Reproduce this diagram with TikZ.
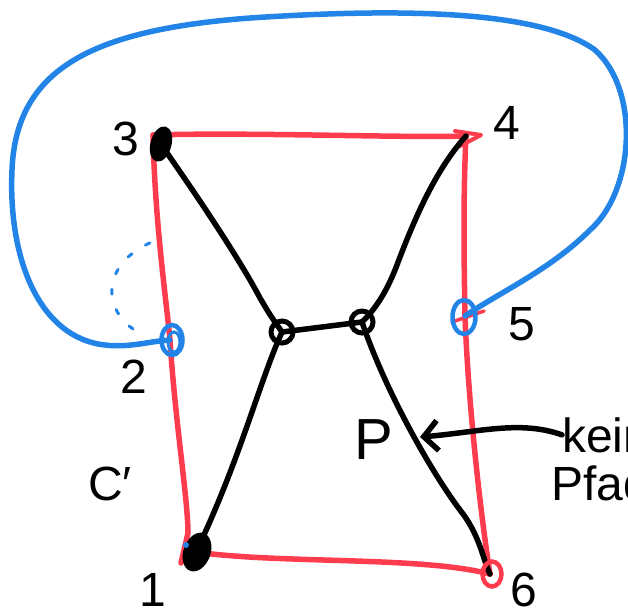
\documentclass[tikz,border=0pt]{standalone}
\usepackage{fontspec}
\setmainfont{Liberation Sans}
\usetikzlibrary{arrows.meta,shapes.geometric}
\definecolor{pred}{HTML}{FF3B4E}
\definecolor{pblue}{HTML}{2384E8}
\begin{document}
\begin{tikzpicture}[x=1pt,y=-1pt,
  redl/.style={pred,line width=5.5pt,line cap=round,line join=round},
  blk/.style={black,line width=5.5pt,line cap=round,line join=round},
  bluel/.style={pblue,line width=5.5pt,line cap=round,line join=round},
  lab/.style={font=\fontsize{48}{52}\selectfont,inner sep=0pt},
  blob/.style={ellipse,fill=black,draw=black,line width=2pt,inner sep=0pt},
  ring/.style={circle,draw=black,line width=5pt,inner sep=0pt,minimum size=22pt}]
\useasboundingbox (0,0) rectangle (628,614);
% vertex positions
\coordinate (v3) at (158,140);
\coordinate (v4) at (466,136);
\coordinate (v2) at (170,340);
\coordinate (v5) at (465,316);
\coordinate (v1) at (196,552);
\coordinate (v6) at (490,574);
% red cycle C'
\draw[redl] (153,135) .. controls (250,132) and (400,138) .. (v4);
\draw[redl] (153,135) .. controls (155,220) and (165,290) .. (v2);
\draw[redl] (v2) .. controls (175,420) and (188,500) .. (188,533) -- (181,563);
\draw[redl] (v1) .. controls (280,564) and (420,556) .. (v6);
\draw[redl] (v4) .. controls (463,200) and (464,260) .. (v5);
\draw[redl] (v5) .. controls (468,400) and (480,510) .. (v6);
\draw[redl,line width=4pt] (455,131) -- (481,135) -- (460,146);
\draw[redl,line width=3.5pt] (452,322) -- (484,311);
% blue path
\draw[bluel] (v2) .. controls (150,341) and (130,348) .. (105,345)
  .. controls (40,338) and (8,260) .. (12,170)
  .. controls (16,70) and (90,30) .. (250,18)
  .. controls (400,8) and (540,10) .. (595,50)
  .. controls (640,90) and (635,190) .. (590,230)
  .. controls (550,270) and (500,292) .. (v5);
\draw[pblue,line width=3pt,line cap=round,dash pattern=on 5pt off 16pt]
  (133,329) .. controls (100,305) and (105,262) .. (152,242);
% inner vertices
\node[ring] (a) at (282,332) {};
\node[ring] (b) at (362,322) {};
% black edges
\draw[blk] (v3) .. controls (200,200) and (240,260) .. (260,298) .. controls (270,315) .. (a.center);
\draw[blk] (a.center) -- (b.center);
\draw[blk] (b.center) .. controls (385,300) and (395,270) .. (400,257)
  .. controls (420,205) and (440,165) .. (v4);
\draw[blk] (a.center) .. controls (260,380) and (240,460) .. (v1);
\draw[blk] (b.center) .. controls (385,390) and (430,470) .. (460,510)
  .. controls (480,535) and (483,560) .. (v6);
% vertex marks
\node[blob,minimum width=19pt,minimum height=34pt,rotate=-15] (n3) at (161,144) {};
\node[blob,minimum width=25pt,minimum height=38pt,rotate=-20] (n1) at (197,552) {};
\fill[pblue] (186,545) circle (3pt);
\node[ellipse,draw=pblue,line width=4.5pt,minimum width=21pt,minimum height=30pt,inner sep=0pt] (n2) at (172,340) {};
\node[ellipse,draw=pblue,line width=3pt,minimum width=12pt,minimum height=20pt,inner sep=0pt] (n2b) at (174,342) {};
\node[ellipse,draw=pblue,line width=4.5pt,minimum width=23pt,minimum height=34pt,inner sep=0pt] (n5) at (464,317) {};
\node[ellipse,draw=pred,line width=4.5pt,minimum width=19pt,minimum height=25pt,inner sep=0pt] (n6) at (492,574) {};
% labels
\node[lab] (l3) at (126,139) {3};
\node[lab] (l4) at (507,123) {4};
\node[lab] (l5) at (522,324) {5};
\node[lab] (l2) at (134,377) {2};
\node[lab] (l1) at (153,590) {1};
\node[lab] (l6) at (524,590) {6};
\node[lab] (lc) at (110,484) {C′};
\node[lab,font=\fontsize{58}{60}\selectfont] (lp) at (374,440) {P};
\node[lab,anchor=base west] (lk) at (562,452) {kein};
\node[lab,anchor=base west] (lpf) at (551,500) {Pfad};
% arrow
\draw[blk,-{Straight Barb[length=14pt,width=30pt]}] (lk.west) .. controls (520,420) and (480,432) .. (420,437);
\end{tikzpicture}
\end{document}
